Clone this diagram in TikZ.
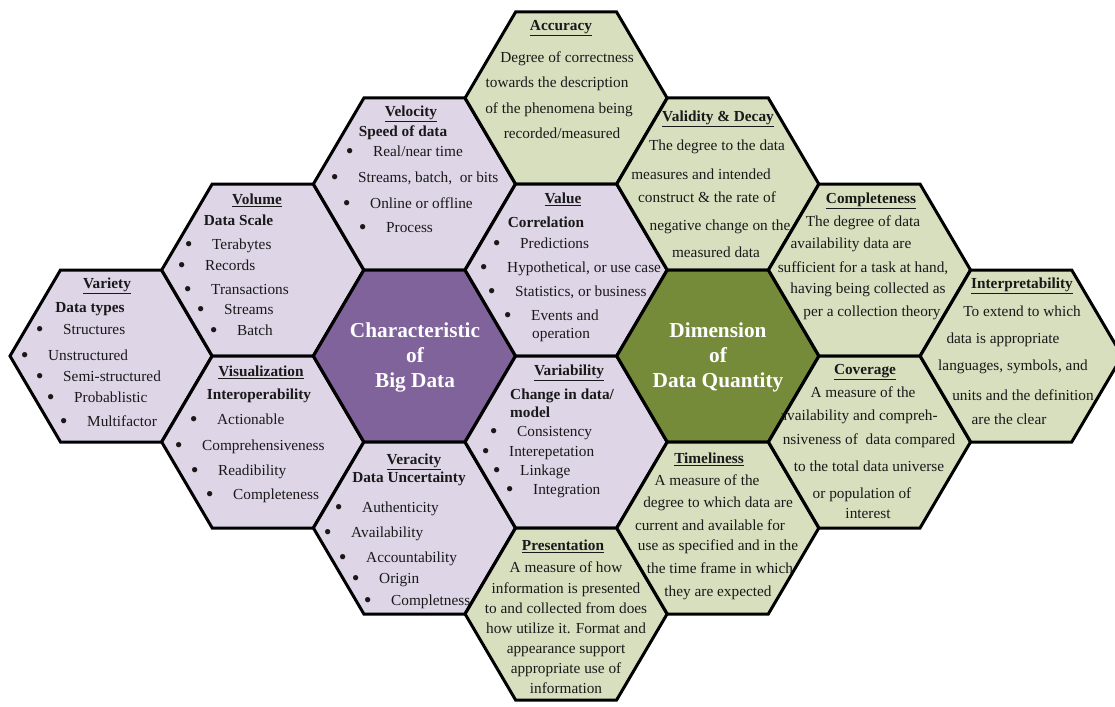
\documentclass[tikz,border=0pt]{standalone}
\usepackage{fontspec}
\usepackage{graphicx}
\setmainfont{Liberation Serif}
\definecolor{lav}{RGB}{222,213,231}
\definecolor{sage}{RGB}{215,223,191}
\definecolor{plum}{RGB}{127,99,154}
\definecolor{olive}{RGB}{118,139,58}
\definecolor{ink}{RGB}{25,25,25}
% flat-topped hexagon centred at (#1,#2)
\newcommand\hexcell[3]{\draw[#3] (#1,#2) ++(-101,0) -- ++(50.5,86) -- ++(101,0) -- ++(50.5,-86) -- ++(-50.5,-86) -- ++(-101,0) -- cycle;}
% list bullet hanging to the left of an item
\newcommand\bu{\llap{\raisebox{-1.8pt}{\scalebox{1.45}{\textbullet}}\hspace{19.5pt}}}
\tikzset{
  cell/.style={line width=3pt, draw=black, line join=miter},
  lavcell/.style={cell, fill=lav},
  sagecell/.style={cell, fill=sage},
  base/.style={inner sep=0pt, text height=10.5pt, text depth=3.5pt, text=ink,
               font=\fontsize{15.3}{18}\selectfont},
  ttl/.style={base, font=\fontsize{15.3}{18}\selectfont\bfseries},
  hd/.style={base, font=\fontsize{15.3}{18}\selectfont\bfseries},
  ln/.style={base},
  itm/.style={base, anchor=west},
  core/.style={inner sep=0pt, align=center, text=white,
               font=\fontsize{21.3}{25}\selectfont\bfseries},
}
\begin{document}
\begin{tikzpicture}[x=1pt,y=-1pt]
\useasboundingbox (0,0) rectangle (1115,706);
\clip (0,0) rectangle (1115,706);

% cells of the honeycomb
\hexcell{111}{356}{lavcell}
\hexcell{262.7}{270}{lavcell}
\hexcell{262.7}{442}{lavcell}
\hexcell{414.4}{184}{lavcell}
\hexcell{414.4}{356}{cell, fill=plum}
\hexcell{414.4}{528}{lavcell}
\hexcell{566.1}{98}{sagecell}
\hexcell{566.1}{270}{lavcell}
\hexcell{566.1}{442}{lavcell}
\hexcell{566.1}{614}{sagecell}
\hexcell{717.8}{184}{sagecell}
\hexcell{717.8}{356}{cell, fill=olive}
\hexcell{717.8}{528}{sagecell}
\hexcell{869.5}{270}{sagecell}
\hexcell{869.5}{442}{sagecell}
\hexcell{1021.2}{356}{sagecell}

% centres
\node[core] (bigdata) at (415,357) {Characteristic\\of\\Big Data};
\node[core] (quality) at (718,357) {Dimension\\of\\Data Quantity};

% Variety
\node[ttl] (varT) at (107,285) {\underline{Variety}};
\node[hd]  (varH) at (90,309) {Data types};
\node[itm] (var1) at (63,331) {\bu Structures};
\node[itm] (var2) at (48,357) {\bu Unstructured};
\node[itm] (var3) at (63,378) {\bu Semi-structured};
\node[itm] (var4) at (74,399) {\bu Probablistic};
\node[itm] (var5) at (87,423) {\bu Multifactor};

% Volume
\node[ttl] (volT) at (257,201) {\underline{Volume}};
\node[hd]  (volH) at (238.5,222) {Data Scale};
\node[itm] (vol1) at (212,246) {\bu Terabytes};
\node[itm] (vol2) at (205,267) {\bu Records};
\node[itm] (vol3) at (211,291) {\bu Transactions};
\node[itm] (vol4) at (224,311) {\bu Streams};
\node[itm] (vol5) at (237,332) {\bu Batch};

% Velocity
\node[ttl] (velT) at (411,113) {\underline{Velocity}};
\node[hd]  (velH) at (403,133) {Speed of data};
\node[itm] (vel1) at (373,153) {\bu Real/near time};
\node[itm] (vel2) at (358,179) {\bu Streams, batch,\ \ or bits};
\node[itm] (vel3) at (370,205) {\bu Online or offline};
\node[itm] (vel4) at (386,229) {\bu Process};

% Accuracy
\node[ttl] (accT) at (561,27) {\underline{Accuracy}};
\node[ln]  (acc1) at (567,59) {Degree of correctness};
\node[ln]  (acc2) at (557,84) {towards the description};
\node[ln]  (acc3) at (559,110) {of the phenomena being};
\node[ln]  (acc4) at (562,135) {recorded/measured};

% Value
\node[ttl] (valT) at (563,200) {\underline{Value}};
\node[hd]  (valH) at (546,224) {Correlation};
\node[itm] (val1) at (520,245) {\bu Predictions};
\node[itm] (val2) at (507,269) {\bu Hypothetical, or use case};
\node[itm] (val3) at (515,293) {\bu Statistics, or business};
\node[itm] (val4) at (531,317) {\bu Events and};
\node[itm] (val5) at (532,335) {operation};

% Validity & Decay
\node[ttl] (vdT) at (718,118) {\underline{Validity \& Decay}};
\node[ln]  (vd1) at (717,147) {The degree to the data};
\node[ln]  (vd2) at (701,176) {measures and intended};
\node[ln]  (vd3) at (707,199) {construct \& the rate of};
\node[ln]  (vd4) at (720,227) {negative change on the};
\node[ln]  (vd5) at (716,254) {measured data};

% Completeness
\node[ttl] (cmpT) at (871,200) {\underline{Completeness}};
\node[ln]  (cmp1) at (863,223) {The degree of data};
\node[ln]  (cmp2) at (851,245) {availability data are};
\node[ln]  (cmp3) at (863,269) {sufficient for a task at hand,};
\node[ln]  (cmp4) at (868,290) {having being collected as};
\node[ln]  (cmp5) at (872,313) {per a collection theory};

% Interpretability
\node[ttl] (intT) at (1022,285) {\underline{Interpretability}};
\node[ln]  (int1) at (1022,313) {To extend to which};
\node[ln]  (int2) at (1003,340) {data is appropriate};
\node[ln]  (int3) at (1013,367) {languages, symbols, and};
\node[ln]  (int4) at (1023,397) {units and the definition};
\node[ln]  (int5) at (1009,421) {are the clear};

% Visualization
\node[ttl] (visT) at (261,373) {\underline{Visualization}};
\node[hd]  (visH) at (259,396) {Interoperability};
\node[itm] (vis1) at (217,421) {\bu Actionable};
\node[itm] (vis2) at (202,447) {\bu Comprehensiveness};
\node[itm] (vis3) at (218,472) {\bu Readibility};
\node[itm] (vis4) at (233,496) {\bu Completeness};

% Veracity
\node[ttl] (verT) at (414,461) {\underline{Veracity}};
\node[hd]  (verH) at (409,479) {Data Uncertainty};
\node[itm] (ver1) at (362,509) {\bu Authenticity};
\node[itm] (ver2) at (351,534) {\bu Availability};
\node[itm] (ver3) at (366,559) {\bu Accountability};
\node[itm] (ver4) at (379,580) {\bu Origin};
\node[itm] (ver5) at (391,602) {\bu Completness};

% Variability
\node[ttl] (vbT) at (569,372) {\underline{Variability}};
\node[hd, anchor=west] (vbH1) at (510,396) {Change in data/};
\node[hd, anchor=west] (vbH2) at (510,414) {model};
\node[itm] (vb1) at (517,433) {\bu Consistency};
\node[itm] (vb2) at (509,453) {\bu Interepetation};
\node[itm] (vb3) at (520,472) {\bu Linkage};
\node[itm] (vb4) at (533,491) {\bu Integration};

% Coverage
\node[ttl] (covT) at (865,371) {\underline{Coverage}};
\node[ln]  (cov1) at (863,394) {A measure of the};
\node[ln]  (cov2) at (859,417) {availability and compreh-};
\node[ln]  (cov3) at (869,441) {nsiveness of\ \ data compared};
\node[ln]  (cov4) at (869,468) {to the total data universe};
\node[ln]  (cov5) at (862,495) {or population of};
\node[ln]  (cov6) at (868,515) {interest};

% Timeliness
\node[ttl] (timT) at (709,460) {\underline{Timeliness}};
\node[ln]  (tim1) at (707,482) {A measure of the};
\node[ln]  (tim2) at (718,504) {degree to which data are};
\node[ln]  (tim3) at (710,527) {current and available for};
\node[ln]  (tim4) at (718,547) {use as specified and in the};
\node[ln]  (tim5) at (720,570) {the time frame in which};
\node[ln]  (tim6) at (718,593) {they are expected};

% Presentation
\node[ttl] (preT) at (563,547) {\underline{Presentation}};
\node[ln]  (pre1) at (566,569) {A measure of how};
\node[ln]  (pre2) at (566,590) {information is presented};
\node[ln]  (pre3) at (566,610) {to and collected from does};
\node[ln]  (pre4) at (566,630) {how utilize it. Format and};
\node[ln]  (pre5) at (566,650) {appearance support};
\node[ln]  (pre6) at (566,670) {appropriate use of};
\node[ln]  (pre7) at (566,690) {information};
\end{tikzpicture}
\end{document}
